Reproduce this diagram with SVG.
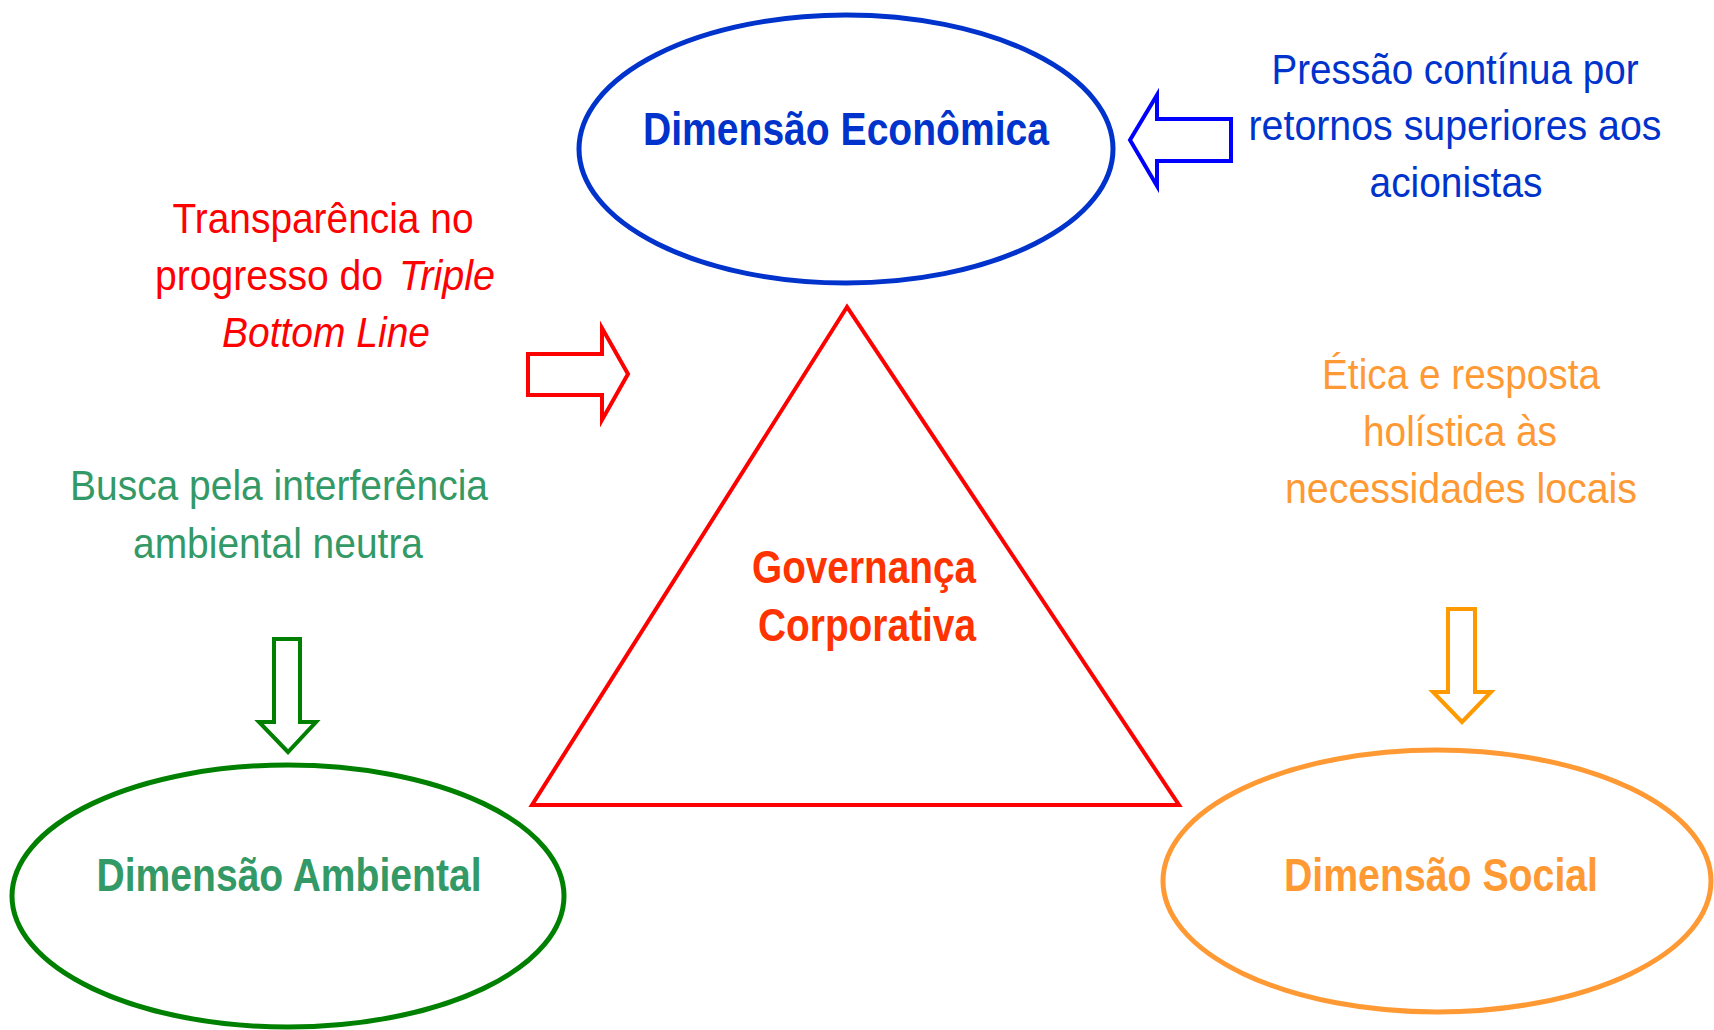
<svg xmlns="http://www.w3.org/2000/svg" width="1714" height="1030" viewBox="0 0 1714 1030">
<style>
text{font-family:"Liberation Sans Narrow","Liberation Sans",Arial,sans-serif;text-anchor:middle}
.b{font-weight:bold;font-size:47px}
.r{font-size:43px}
.s{text-anchor:start}
.shape{fill:none}
.arrow{fill:#fff;stroke-width:4;stroke-linejoin:miter}
</style>
<rect width="1714" height="1030" fill="#fff"/>
<g id="economica">
<ellipse cx="846" cy="149" rx="267" ry="134" class="shape" stroke="#0033CC" stroke-width="5"/>
<text x="846" y="145" class="b" fill="#0033CC" textLength="406" lengthAdjust="spacingAndGlyphs">Dimensão Econômica</text>
</g>
<g id="governanca">
<polygon points="847,307 532,805 1179,805" class="shape" stroke="#FF0000" stroke-width="4"/>
<text x="864" y="583" class="b" fill="#FF3300" textLength="224" lengthAdjust="spacingAndGlyphs">Governança</text>
<text x="867" y="641" class="b" fill="#FF3300" textLength="218" lengthAdjust="spacingAndGlyphs">Corporativa</text>
</g>
<g id="ambiental">
<ellipse cx="288" cy="896" rx="276" ry="131" class="shape" stroke="#008000" stroke-width="5"/>
<text x="289" y="891" class="b" fill="#339966" textLength="385" lengthAdjust="spacingAndGlyphs">Dimensão Ambiental</text>
</g>
<g id="social">
<ellipse cx="1437" cy="881" rx="274" ry="131" class="shape" stroke="#FF9933" stroke-width="5"/>
<text x="1441" y="891" class="b" fill="#FF9933" textLength="314" lengthAdjust="spacingAndGlyphs">Dimensão Social</text>
</g>
<g id="label-economica">
<text x="1455" y="84" class="r" fill="#0033CC" textLength="367" lengthAdjust="spacingAndGlyphs">Pressão contínua por</text>
<text x="1455" y="140" class="r" fill="#0033CC" textLength="413" lengthAdjust="spacingAndGlyphs">retornos superiores aos</text>
<text x="1456" y="197" class="r" fill="#0033CC" textLength="173" lengthAdjust="spacingAndGlyphs">acionistas</text>
</g>
<g id="label-transparencia">
<text x="323" y="233" class="r" fill="#FF0000" textLength="301" lengthAdjust="spacingAndGlyphs">Transparência no</text>
<text x="155" y="290" class="r s" fill="#FF0000" textLength="228" lengthAdjust="spacingAndGlyphs">progresso do</text>
<text x="399" y="290" class="r s" fill="#FF0000" font-style="italic" textLength="96" lengthAdjust="spacingAndGlyphs">Triple</text>
<text x="326" y="347" class="r" fill="#FF0000" font-style="italic" textLength="208" lengthAdjust="spacingAndGlyphs">Bottom Line</text>
</g>
<g id="label-ambiental">
<text x="279" y="500" class="r" fill="#339966" textLength="418" lengthAdjust="spacingAndGlyphs">Busca pela interferência</text>
<text x="278" y="558" class="r" fill="#339966" textLength="290" lengthAdjust="spacingAndGlyphs">ambiental neutra</text>
</g>
<g id="label-social">
<text x="1461" y="389" class="r" fill="#FF9933" textLength="278" lengthAdjust="spacingAndGlyphs">Ética e resposta</text>
<text x="1460" y="446" class="r" fill="#FF9933" textLength="194" lengthAdjust="spacingAndGlyphs">holística às</text>
<text x="1461" y="503" class="r" fill="#FF9933" textLength="352" lengthAdjust="spacingAndGlyphs">necessidades locais</text>
</g>
<g id="connectors">
<polygon class="arrow" stroke="#0000FF" points="1130,140 1157,95 1157,119 1231,119 1231,161 1157,161 1157,186"/>
<polygon class="arrow" stroke="#FF0000" points="528,354 602,354 602,328 628,374 602,420 602,395 528,395"/>
<polygon class="arrow" stroke="#008000" points="274,639 300,639 300,722 316,722 288,752 259,722 274,722"/>
<polygon class="arrow" stroke="#FF9900" points="1448,609 1475,609 1475,692 1491,692 1462,722 1433,692 1448,692"/>
</g>
</svg>
